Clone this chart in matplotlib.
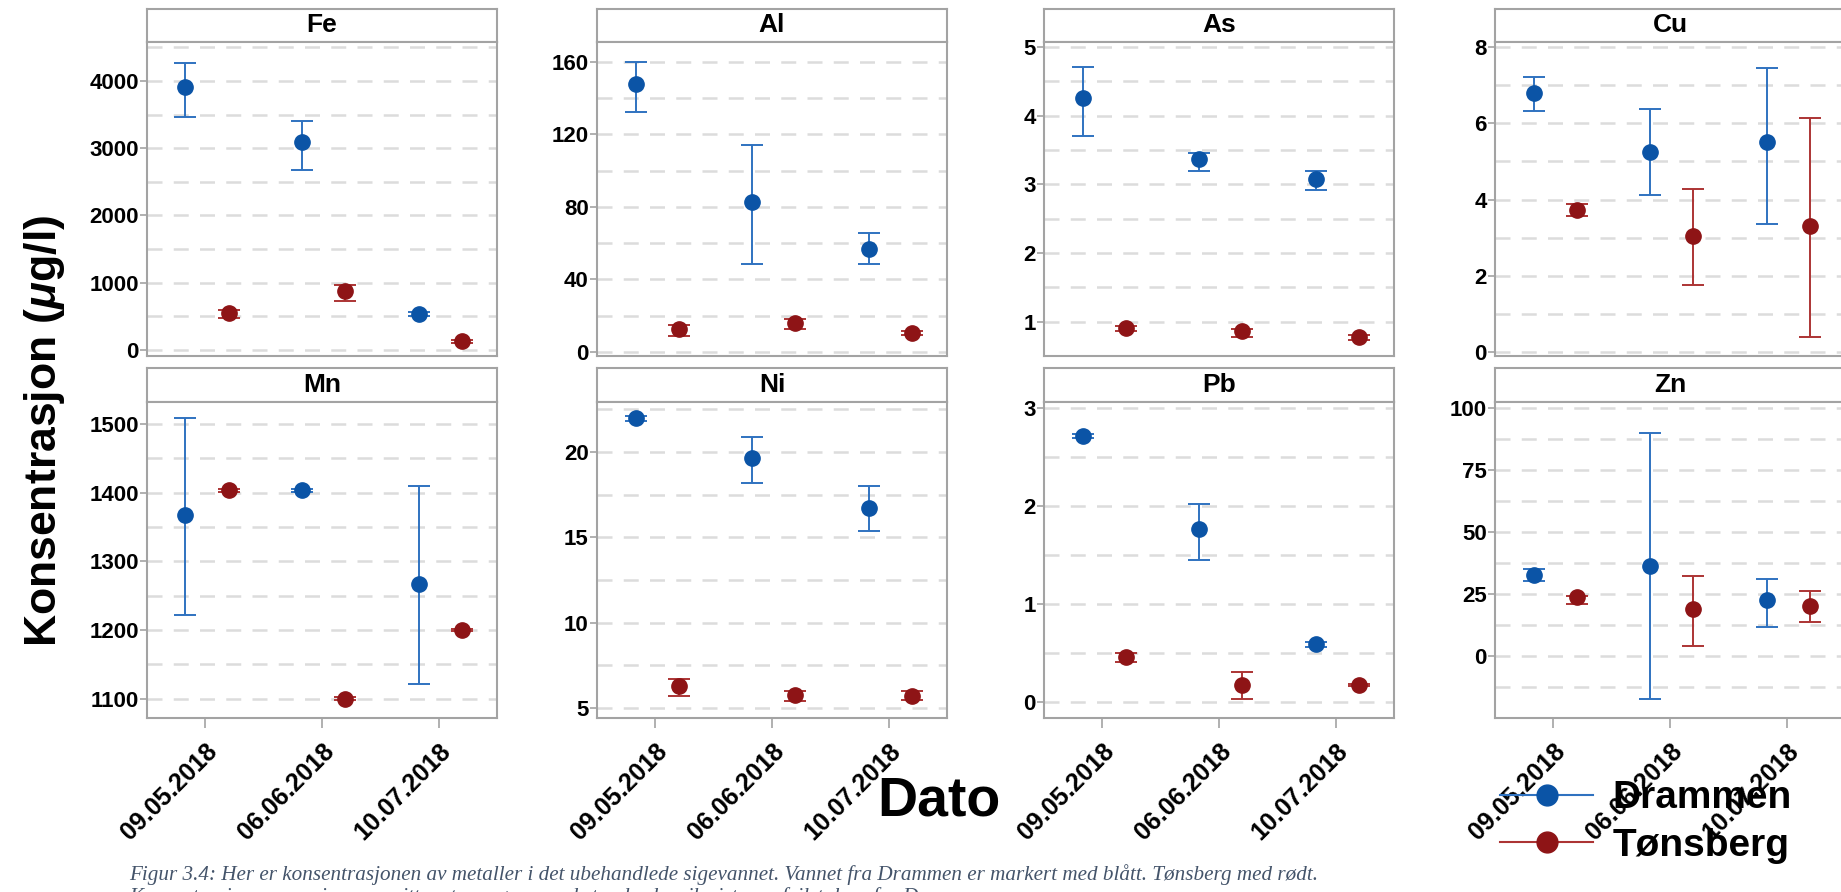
import matplotlib
matplotlib.use("Agg")
import matplotlib.pyplot as plt
from matplotlib.lines import Line2D
from matplotlib.ticker import MultipleLocator
import numpy as np

plt.rcParams["font.family"] = ["Liberation Sans", "DejaVu Sans"]
plt.rcParams["mathtext.fontset"] = "custom"
plt.rcParams["mathtext.it"] = "Liberation Sans:bold:italic"
plt.rcParams["mathtext.rm"] = "Liberation Sans:bold"

W, H = 1841, 892

DATES = ["09.05.2018", "06.06.2018", "10.07.2018"]
METALS = ["Fe", "Al", "As", "Cu", "Mn", "Ni", "Pb", "Zn"]

# rows: mean, lower end of error bar, upper end of error bar (ug/l)
FE_DRAMMEN = [[3910, 3090, 540], [3460, 2680, 510], [4270, 3400, 570]]
FE_TONSBERG = [[550, 870, 130], [470, 735, 110], [590, 965, 150]]
AL_DRAMMEN = [[148, 83, 57], [132.5, 48.5, 48.5], [160, 114, 65.5]]
AL_TONSBERG = [[12.5, 16, 10.5], [9, 12.5, 9.5], [15, 18, 11.5]]
AS_DRAMMEN = [[4.26, 3.36, 3.08], [3.70, 3.19, 2.91], [4.71, 3.45, 3.19]]
AS_TONSBERG = [[0.91, 0.86, 0.77], [0.87, 0.78, 0.73], [0.94, 0.90, 0.80]]
CU_DRAMMEN = [[6.8, 5.25, 5.5], [6.32, 4.11, 3.37], [7.2, 6.38, 7.45]]
CU_TONSBERG = [[3.72, 3.05, 3.3], [3.56, 1.75, 0.39], [3.89, 4.28, 6.15]]
MN_DRAMMEN = [[1368, 1404, 1267], [1222, 1401, 1122], [1508, 1406, 1409]]
MN_TONSBERG = [[1404, 1100, 1200], [1401, 1098, 1198], [1406, 1102, 1202]]
NI_DRAMMEN = [[22.0, 19.65, 16.7], [21.8, 18.2, 15.35], [22.1, 20.9, 18.0]]
NI_TONSBERG = [[6.3, 5.75, 5.7], [5.7, 5.4, 5.45], [6.7, 6.0, 6.0]]
PB_DRAMMEN = [[2.71, 1.77, 0.59], [2.69, 1.45, 0.56], [2.73, 2.02, 0.61]]
PB_TONSBERG = [[0.46, 0.18, 0.18], [0.41, 0.03, 0.17], [0.50, 0.31, 0.19]]
ZN_DRAMMEN = [[32.5, 36.2, 22.6], [30.1, -17.5, 11.6], [35.1, 90.0, 31.0]]
ZN_TONSBERG = [[23.7, 18.8, 20.0], [21.0, 4.0, 13.7], [24.3, 32.3, 26.1]]

DRAMMEN = [FE_DRAMMEN, AL_DRAMMEN, AS_DRAMMEN, CU_DRAMMEN,
           MN_DRAMMEN, NI_DRAMMEN, PB_DRAMMEN, ZN_DRAMMEN]
TONSBERG = [FE_TONSBERG, AL_TONSBERG, AS_TONSBERG, CU_TONSBERG,
            MN_TONSBERG, NI_TONSBERG, PB_TONSBERG, ZN_TONSBERG]

YLIMS = [(-90, 4580), (-2.2, 171), (0.5, 5.07), (-0.1, 8.13),
         (1072, 1532), (4.4, 22.94), (-0.16, 3.06), (-25, 102.4)]
YTICKS = [[0, 1000, 2000, 3000, 4000], [0, 40, 80, 120, 160], [1, 2, 3, 4, 5],
          [0, 2, 4, 6, 8], [1100, 1200, 1300, 1400, 1500], [5, 10, 15, 20],
          [0, 1, 2, 3], [0, 25, 50, 75, 100]]

CAPTION_1 = ("Figur 3.4: Her er konsentrasjonen av metaller i det ubehandlede sigevannet. "
             "Vannet fra Drammen er markert med blått. Tønsberg med rødt.")
CAPTION_2 = ("Konsentrasjonene er gjennomsnitt av tre prøver, med standardavvik "
             "vist som feilstolper for Drammen")

BLUE = "#0b54a6"
BLUE_LINE = "#2f72c0"
RED = "#8e1416"
RED_LINE = "#ac3434"
FRAME = "#a3a3a3"
GRID = "#dcdcdc"

COL_LEFT = [147, 597, 1044, 1495]
PANEL_W = 350
ROWS = [(9, 42, 356), (368, 402, 718)]  # strip top, plot top, plot bottom (px)


def px_axes(fig, left, top, width, height):
    return fig.add_axes([left / W, 1 - (top + height) / H, width / W, height / H])


def main():
    fig = plt.figure(figsize=(W / 100, H / 100), dpi=100)
    x = np.arange(len(DATES))

    for i, metal in enumerate(METALS):
        row, col = divmod(i, 4)
        s_top, p_top, p_bot = ROWS[row]
        left = COL_LEFT[col]

        # strip with metal name
        sax = px_axes(fig, left, s_top, PANEL_W, p_top - s_top)
        sax.set_xticks([])
        sax.set_yticks([])
        for sp in sax.spines.values():
            sp.set_color(FRAME)
            sp.set_linewidth(1.5)
        sax.text(0.5, 0.5, metal, ha="center", va="center", fontsize=19,
                 fontweight="bold", transform=sax.transAxes)

        ax = px_axes(fig, left, p_top, PANEL_W, p_bot - p_top)
        for sp in ax.spines.values():
            sp.set_color(FRAME)
            sp.set_linewidth(1.5)

        for data, off, mc, lc in [(DRAMMEN[i], -0.17, BLUE, BLUE_LINE),
                                  (TONSBERG[i], 0.2, RED, RED_LINE)]:
            mean, lo, hi = (np.array(v, dtype=float) for v in data)
            ax.errorbar(x + off, mean, yerr=[mean - lo, hi - mean], fmt="o",
                        color=mc, ecolor=lc, markersize=11, elinewidth=1.4,
                        capsize=8, capthick=1.4, zorder=3)

        ax.set_xlim(-0.5, 2.5)
        ax.set_ylim(*YLIMS[i])
        ticks = YTICKS[i]
        ax.set_yticks(ticks)
        ax.yaxis.set_minor_locator(MultipleLocator((ticks[1] - ticks[0]) / 2))
        ax.grid(which="both", axis="y", color=GRID, linewidth=1.8,
                linestyle=(0, (6, 4.5)), zorder=0)
        ax.tick_params(axis="y", which="major", length=5, width=1.2, color=FRAME,
                       labelsize=16, pad=1)
        ax.tick_params(axis="y", which="minor", length=0)
        for lab in ax.get_yticklabels():
            lab.set_fontweight("bold")

        ax.set_xticks(x)
        if row == 1:
            ax.set_xticklabels(DATES, rotation=45, ha="right",
                               rotation_mode="anchor", fontsize=18, fontweight="bold")
            ax.tick_params(axis="x", length=7, width=1.2, color=FRAME, pad=8)
        else:
            ax.set_xticklabels([])
            ax.tick_params(axis="x", length=0)

    fig.text(45 / W, 1 - 431 / H, "Konsentrasjon ($\\mu$g/l)", rotation=90,
             fontsize=32, fontweight="bold", ha="center", va="center")
    fig.text(939 / W, 1 - 802 / H, "Dato", fontsize=40, fontweight="bold",
             ha="center", va="center")

    handles = [Line2D([0], [0], color=BLUE_LINE, marker="o", markerfacecolor=BLUE,
                      markeredgecolor=BLUE, markersize=15, linewidth=1.5),
               Line2D([0], [0], color=RED_LINE, marker="o", markerfacecolor=RED,
                      markeredgecolor=RED, markersize=15, linewidth=1.5)]
    fig.legend(handles, ["Drammen", "Tønsberg"], loc="center left",
               bbox_to_anchor=(1500 / W, 1 - 822 / H), frameon=False,
               prop={"size": 28, "weight": "bold"}, handlelength=2.4,
               handletextpad=0.5, labelspacing=0.3, borderpad=0, borderaxespad=0)

    cap = dict(family="Liberation Serif", style="italic", fontsize=15.2,
               color="#44546a", ha="left", va="center")
    fig.text(129 / W, 1 - 875 / H, CAPTION_1, **cap)
    fig.text(129 / W, 1 - 897 / H, CAPTION_2, **cap)

    fig.savefig("out.png", dpi=100)
    plt.close(fig)


if __name__ == "__main__":
    main()
